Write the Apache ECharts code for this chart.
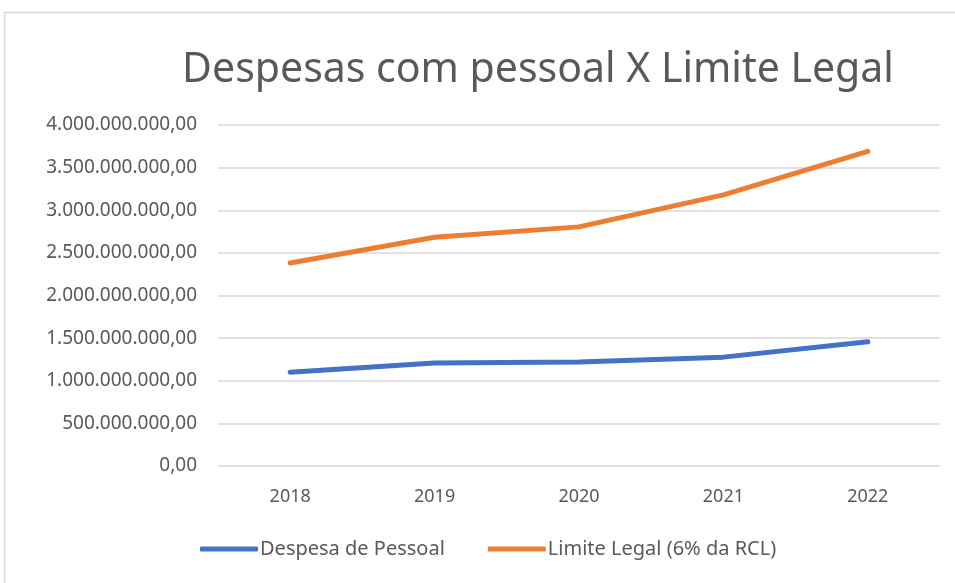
<!DOCTYPE html>
<html>
<head>
<meta charset="utf-8">
<script src="https://cdn.jsdelivr.net/npm/echarts@6/dist/echarts.min.js"></script>
<style>
  html, body { margin: 0; padding: 0; background: #fff; }
  #chart { width: 955px; height: 583px; }
</style>
</head>
<body>
<div id="chart"></div>
<script>
// dados
const anos = ['2018', '2019', '2020', '2021', '2022'];
const despesaPessoal = [1101000000, 1207000000, 1219000000, 1277000000, 1457000000];
const limiteLegal = [2382000000, 2683000000, 2805000000, 3181000000, 3690000000];

// formato brasileiro: 1.000.000,00
const fmt = (v) => {
  let s = Math.round(v).toString().replace(/\B(?=(\d{3})+(?!\d))/g, '.');
  return s + ',00';
};

const FONT = 'Noto Sans';
const TXT = '#595959';

let chart = echarts.init(document.getElementById('chart'));

let option = {
  animation: false,
  title: {
    text: 'Despesas com pessoal X Limite Legal',
    left: 533,
    textAlign: 'center',
    top: 45,
    textStyle: { fontFamily: FONT, fontSize: 41, fontWeight: 'normal', color: TXT }
  },
  graphic: [
    {
      type: 'rect',
      shape: { x: 4.5, y: 12.5, width: 1000, height: 700 },
      style: { fill: 'none', stroke: '#d9d9d9', lineWidth: 1.5 },
      silent: true
    }
  ],
  grid: { left: 218, right: 15, top: 125, bottom: 117 },
  legend: {
    bottom: 19,
    left: 195,
    itemWidth: 58,
    itemHeight: 5,
    itemGap: 43,
    icon: 'roundRect',
    textStyle: { fontFamily: FONT, fontSize: 20, color: TXT, padding: [0, 0, 0, -3] },
    data: ['Despesa de Pessoal', 'Limite Legal (6% da RCL)']
  },
  xAxis: {
    type: 'category',
    data: anos,
    boundaryGap: true,
    axisLine: { show: false },
    axisTick: { show: false },
    axisLabel: { fontFamily: FONT, fontSize: 18, color: TXT, margin: 22 }
  },
  yAxis: {
    type: 'value',
    min: 0,
    max: 4000000000,
    interval: 500000000,
    splitLine: { lineStyle: { color: '#d9d9d9', width: 1.5 } },
    axisLabel: { fontFamily: FONT, fontSize: 19, color: TXT, margin: 21, formatter: fmt }
  },
  series: [
    {
      name: 'Despesa de Pessoal',
      type: 'line',
      data: despesaPessoal,
      showSymbol: false,
      lineStyle: { width: 5, color: '#4472C4', cap: 'round' },
      itemStyle: { color: '#4472C4' }
    },
    {
      name: 'Limite Legal (6% da RCL)',
      type: 'line',
      data: limiteLegal,
      showSymbol: false,
      lineStyle: { width: 5, color: '#ED7D31', cap: 'round' },
      itemStyle: { color: '#ED7D31' }
    }
  ]
};

chart.setOption(option);
</script>
</body>
</html>
